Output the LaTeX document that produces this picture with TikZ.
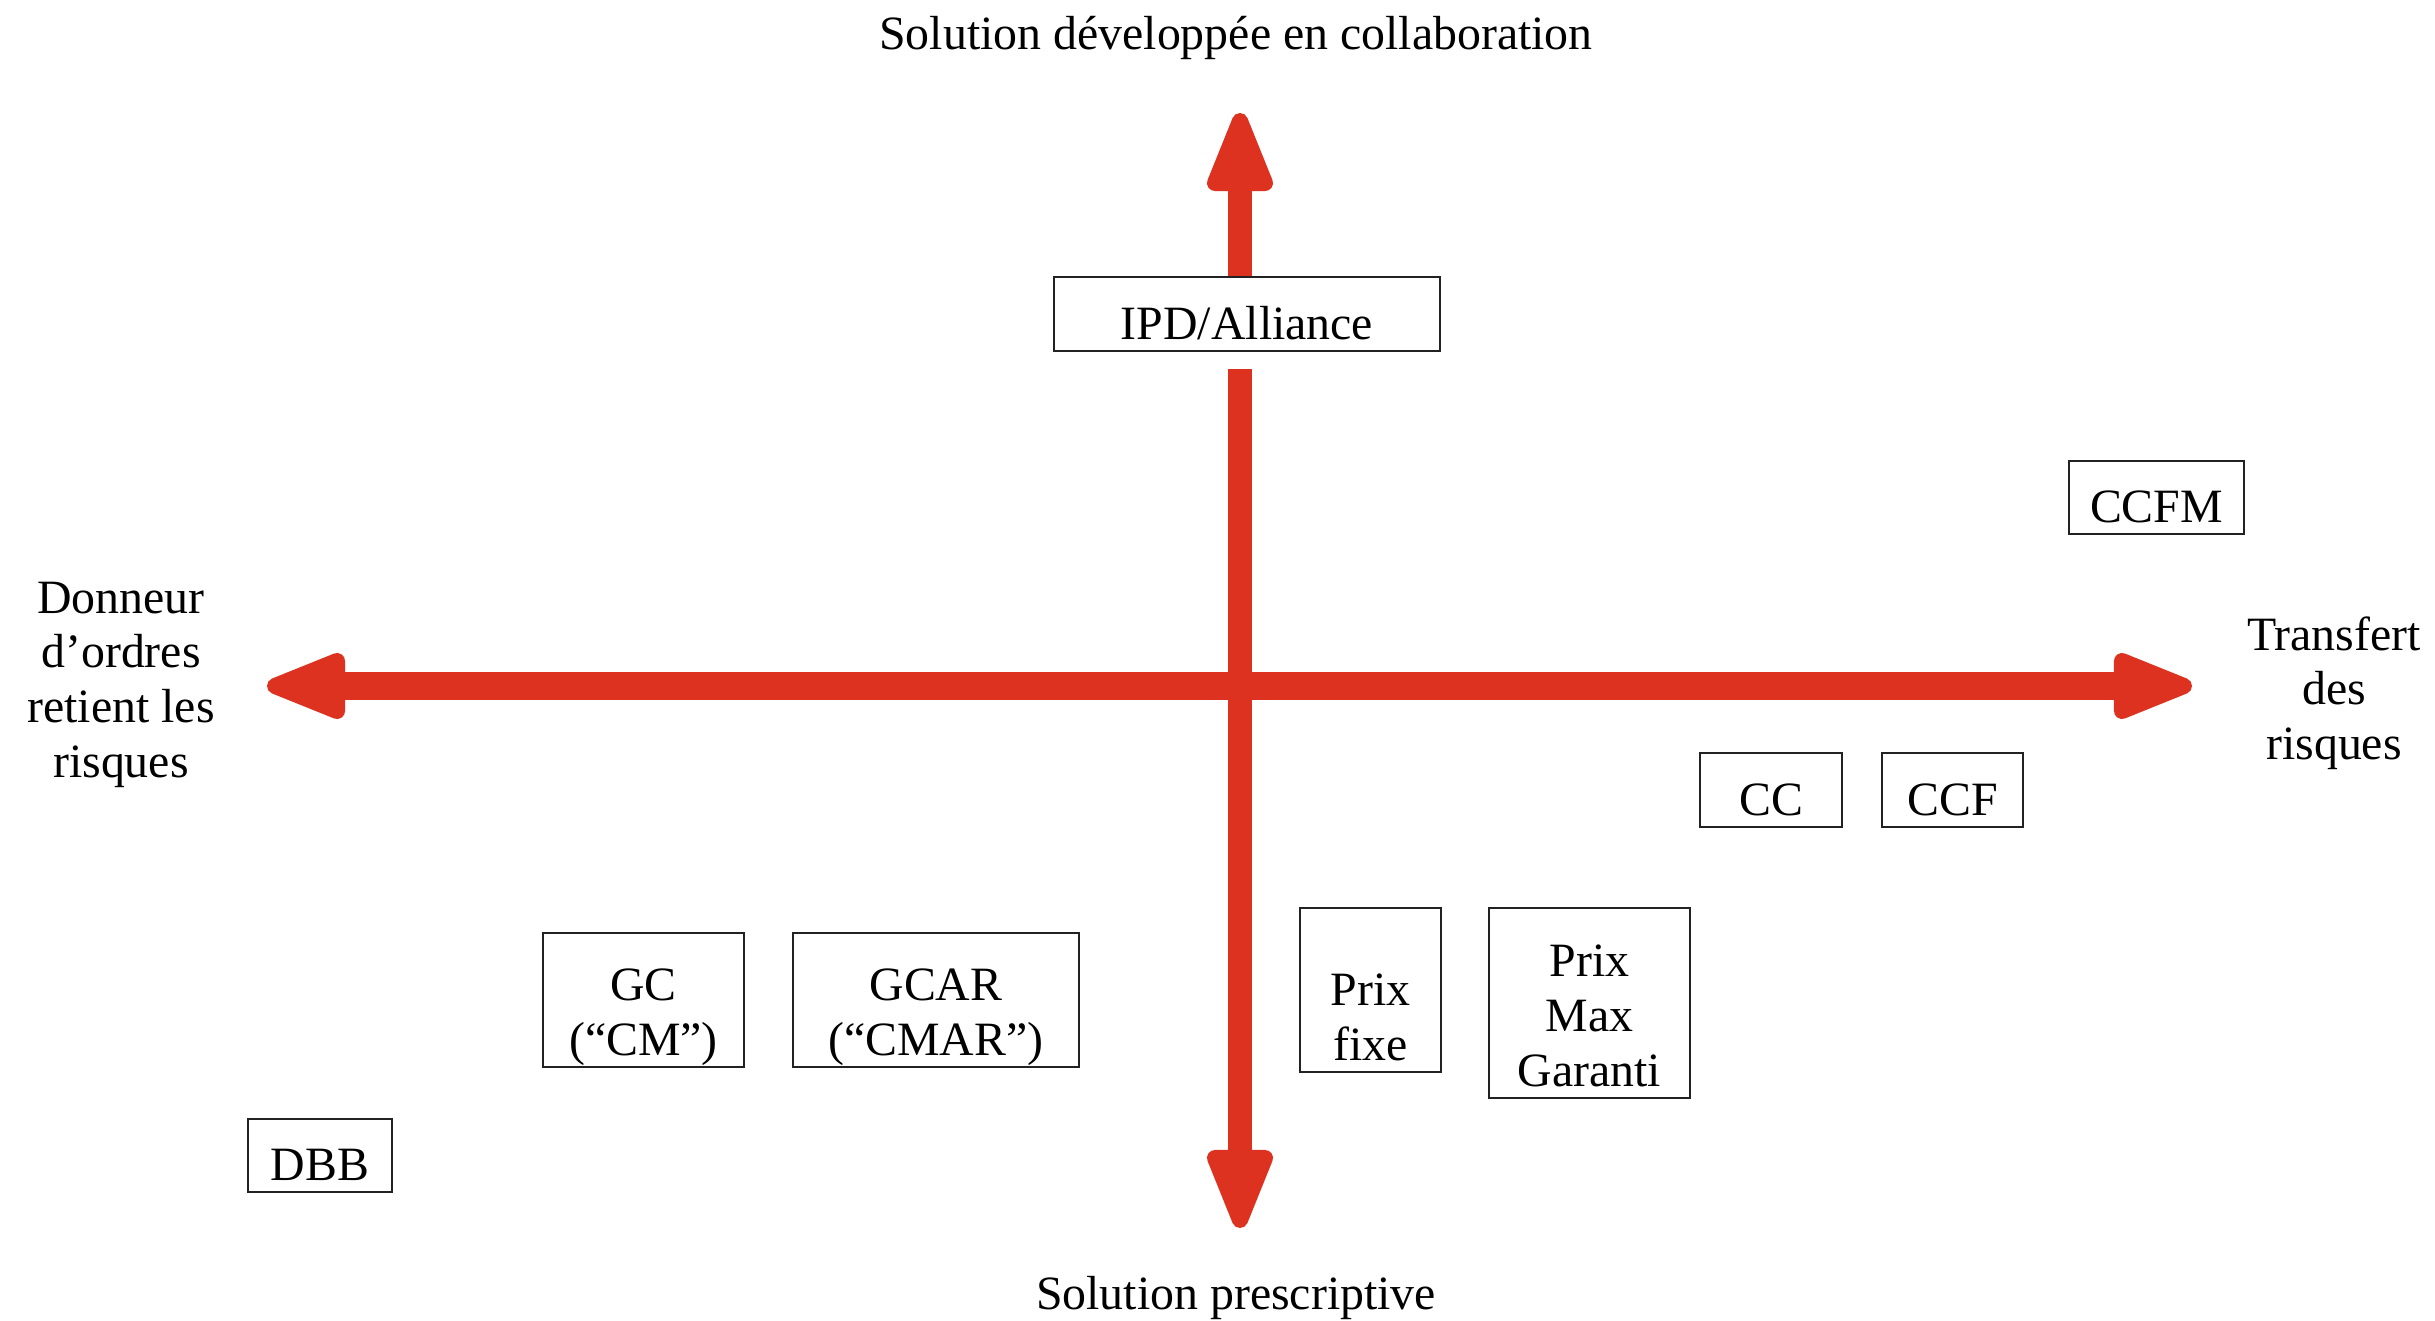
\documentclass[tikz,border=0pt]{standalone}
\usepackage{fontspec}
\setmainfont{Liberation Serif}
\usetikzlibrary{calc}
\definecolor{axisred}{RGB}{221,50,31}
\definecolor{boxline}{RGB}{34,34,34}
% text in a box of fixed size: #2 is the height above the last baseline,
% the strut below adds 0.12cm, so the last line sits just above the bottom edge
\newcommand\boxedtext[3]{\parbox[c][#2][b]{#1}{\centering #3\rule[-0.12cm]{0pt}{0.12cm}}}
% centred multi-line text whose baseline is that of its first line
\newcommand\stackedtext[2]{\parbox[t]{#1}{\centering #2}}
\begin{document}
\begin{tikzpicture}[x=0.01cm, y=-0.01cm,
  font=\fontsize{13.6pt}{15.6pt}\selectfont,
  box/.style={draw=boxline, line width=0.6pt, fill=white, inner sep=0pt},
  axislabel/.style={inner sep=0pt, anchor=base},
  shaftv/.style={draw=axisred, line width=0.24cm},
  shafth/.style={draw=axisred, line width=0.27cm},
  axhead/.pic={\filldraw[axisred, line width=0.16cm, line join=round]
    (-0.08cm,0) -- (-0.70cm,0.25cm) -- (-0.70cm,-0.25cm) -- cycle;}
]
\useasboundingbox[fill=white] (0,0) rectangle (2435,1321);

% axis tips
\coordinate (N) at (1240,113);
\coordinate (S) at (1240,1228);
\coordinate (W) at (267,686);
\coordinate (E) at (2192,686);

% delivery models
\node[box] (ipd)  at (1247,314)    {\boxedtext{3.86cm}{0.62cm}{IPD/Alliance}};
\node[box] (ccfm) at (2156.5,497.5){\boxedtext{1.75cm}{0.61cm}{CCFM}};
\node[box] (cc)   at (1771,790)    {\boxedtext{1.42cm}{0.62cm}{CC}};
\node[box] (ccf)  at (1952.5,790)  {\boxedtext{1.41cm}{0.62cm}{CCF}};
\node[box] (pf)   at (1370.5,990)  {\boxedtext{1.41cm}{1.52cm}{Prix\\fixe}};
\node[box] (pmg)  at (1589.5,1003) {\boxedtext{2.01cm}{1.78cm}{Prix\\Max\\Garanti}};
\node[box] (gc)   at (643.5,1000)  {\boxedtext{2.01cm}{1.22cm}{GC\\(“CM”)}};
\node[box] (gcar) at (936,1000)    {\boxedtext{2.86cm}{1.22cm}{GCAR\\(“CMAR”)}};
\node[box] (dbb)  at (320,1155.5)  {\boxedtext{1.44cm}{0.61cm}{DBB}};

% axes
\draw[shafth] ($(W)+(70,0)$) -- ($(E)+(-70,0)$);
\draw[shaftv] (ipd.north -| N) -- ($(N)+(0,70)$);
\draw[shaftv] ($(ipd.south -| N)+(0,17)$) -- ($(S)+(0,-70)$);
\pic[rotate=90]  at (N) {axhead};
\pic[rotate=-90] at (S) {axhead};
\pic[rotate=180] at (W) {axhead};
\pic             at (E) {axhead};

% axis labels
\node[axislabel] (ttop)   at (1236,49)   {Solution développée en collaboration};
\node[axislabel] (tbot)   at (1236,1309) {Solution prescriptive};
\node[axislabel] (tleft)  at (121,613)   {\stackedtext{3cm}{Donneur\\d’ordres\\retient les\\risques}};
\node[axislabel] (tright) at (2334,650)  {\stackedtext{2cm}{Transfert\\des\\risques}};
\end{tikzpicture}
\end{document}
